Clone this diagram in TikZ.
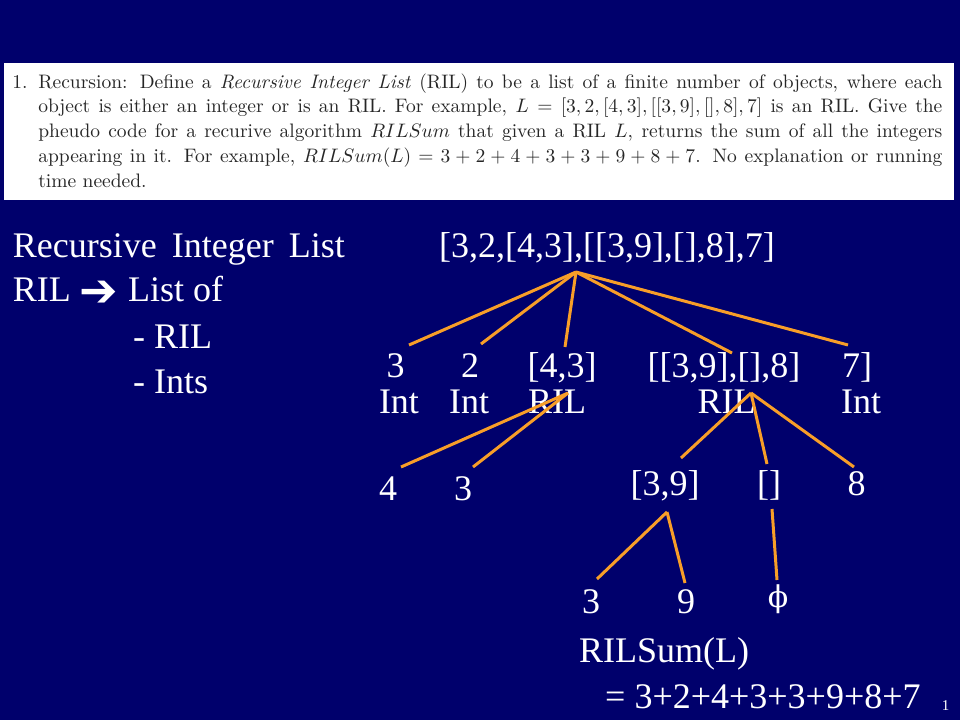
\documentclass[tikz,border=0pt]{standalone}
\usepackage{fontspec}
\newfontfamily\tnr{Liberation Serif}
\newfontfamily\djv{DejaVu Sans}
\newfontfamily\djvserif{DejaVu Serif}
\definecolor{slidebg}{RGB}{0,0,108}
\definecolor{ribbon}{RGB}{248,158,40}
\begin{document}
\begin{tikzpicture}[x=1pt,y=-1pt,
  txt/.style={text=white,inner sep=0pt,font=\tnr\fontsize{36}{40}\selectfont},
  edge/.style={draw=ribbon,line width=3pt}]
\fill[slidebg] (0,0) rectangle (960,720);
\useasboundingbox (0,0) rectangle (960,720);
% question box
\node[fill=white,draw=none,inner sep=0pt,minimum width=950pt,minimum height=137pt,anchor=north west] (qbox) at (4,63) {};
\node[anchor=base west,inner sep=0pt,scale=1.95,text=black!85] (qtext) at (12,88) {\parbox[t]{476.9pt}{\fontsize{10}{12.8}\selectfont\tolerance=10000\emergencystretch=20pt\noindent\hangindent=13.3pt\hangafter=1\makebox[13.3pt][l]{1.}Recursion: Define a \textit{Recursive Integer List} (RIL) to be a list of a finite number of objects, where each\linebreak
object is either an integer or is an RIL. For example, $L=[3,2,[4,3],[[3,9],[],8],7]$ is an RIL. Give the\linebreak
pheudo code for a recurive algorithm $RILSum$ that given a RIL $L$, returns the sum of all the integers\linebreak
appearing in it. For example, $RILSum(L)=3+2+4+3+3+9+8+7$. No explanation or running\linebreak
time needed.}};
% left text
\node[txt,anchor=base west] (t1) at (12.7,257) {Recursive\, Integer\, List};
\node[txt,anchor=base west] (t2) at (12.7,301.7) {RIL};
\node[txt,anchor=center,font=\djv\fontsize{46}{46}\selectfont] (t2arrow) at (98.5,294) {➔};
\node[txt,anchor=base west] (t2b) at (128,301.7) {List of};
\node[txt,anchor=base west] (t3) at (133,348) {- RIL};
\node[txt,anchor=base west] (t4) at (133,393) {- Ints};
% tree nodes
\node[txt,anchor=base] (root) at (607,257) {[3,2,[4,3],[[3,9],[],8],7]};
\node[txt,anchor=base] (n3) at (395.5,377) {3};
\node[txt,anchor=base] (i1) at (399,413) {Int};
\node[txt,anchor=base] (n2) at (470,377) {2};
\node[txt,anchor=base] (i2) at (469,413) {Int};
\node[txt,anchor=base] (n43) at (562,377) {[4,3]};
\node[txt,anchor=base] (r1) at (557,413) {RIL};
\node[txt,anchor=base] (nbig) at (724,377) {[[3,9],[],8]};
\node[txt,anchor=base] (r2) at (726.5,413) {RIL};
\node[txt,anchor=base] (n7) at (857,377) {7]};
\node[txt,anchor=base] (i3) at (861,413) {Int};
\node[txt,anchor=base] (m4) at (388,500) {4};
\node[txt,anchor=base] (m3) at (463,500) {3};
\node[txt,anchor=base] (m39) at (665,495) {[3,9]};
\node[txt,anchor=base] (mnil) at (769,495) {[]};
\node[txt,anchor=base] (m8) at (856.5,495) {8};
\node[txt,anchor=base] (k3) at (591,613) {3};
\node[txt,anchor=base] (k9) at (686,613) {9};
\node[txt,anchor=base,font=\djvserif\fontsize{30}{34}\selectfont] (kphi) at (778,607) {ϕ};
\node[txt,anchor=base west] (sum1) at (579,662) {RILSum(L)};
\node[txt,anchor=base west] (sum2) at (605,708) {= 3+2+4+3+3+9+8+7};
\node[txt,anchor=base,font=\tnr\fontsize{15}{16}\selectfont] (pg) at (945.5,710) {1};
% connector points
\coordinate (rootp) at (576,272);
\coordinate (e3) at (409,345);
\coordinate (e2) at (481,344);
\coordinate (e43) at (565,347);
\coordinate (ebig) at (732,353);
\coordinate (e7) at (848,345);
\coordinate (p43) at (568,393);
\coordinate (e4) at (401,467);
\coordinate (e3b) at (473,467);
\coordinate (pbig) at (751,393);
\coordinate (e39) at (681,458);
\coordinate (enil) at (767,464);
\coordinate (e8) at (854,467);
\coordinate (p39) at (667,512);
\coordinate (e3c) at (597,579);
\coordinate (e9) at (685,583);
\coordinate (pnil) at (772,509);
\coordinate (ephi) at (777,580);
% connectors
\draw[edge] (rootp) -- (e3);
\draw[edge] (rootp) -- (e2);
\draw[edge] (rootp) -- (e43);
\draw[edge] (rootp) -- (ebig);
\draw[edge] (rootp) -- (e7);
\draw[edge] (p43) -- (e4);
\draw[edge] (p43) -- (e3b);
\draw[edge] (pbig) -- (e39);
\draw[edge] (pbig) -- (enil);
\draw[edge] (pbig) -- (e8);
\draw[edge] (p39) -- (e3c);
\draw[edge] (p39) -- (e9);
\draw[edge] (pnil) -- (ephi);
\end{tikzpicture}
\end{document}
